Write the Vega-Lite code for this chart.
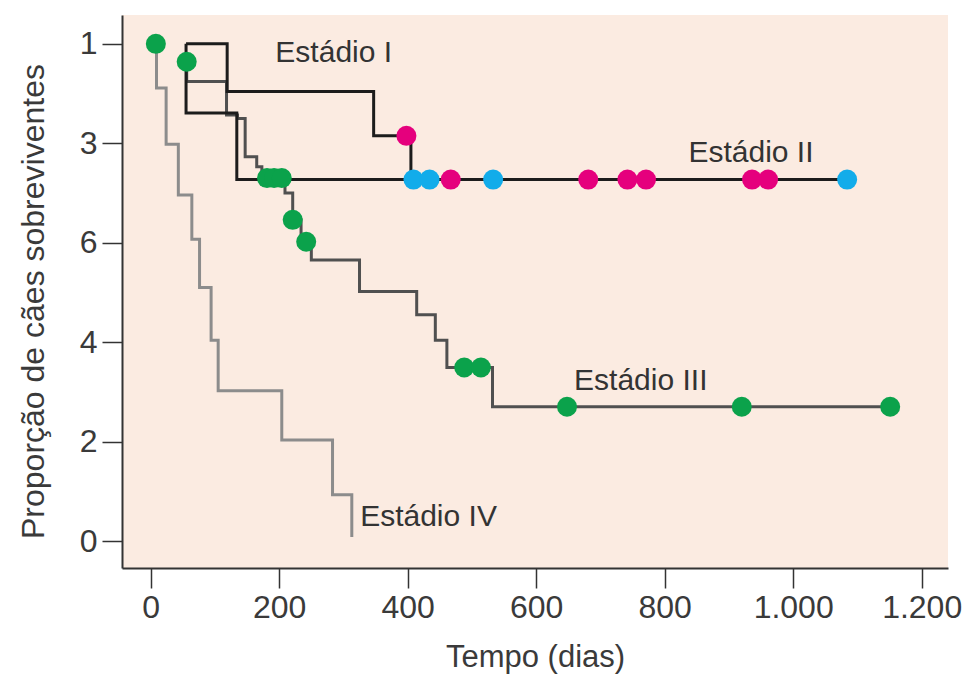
{
  "$schema": "https://vega.github.io/schema/vega-lite/v6.json",
  "width": 826,
  "height": 553,
  "autosize": {"type": "none"},
  "padding": {"left": 122, "top": 15, "right": 26, "bottom": 109},
  "background": "white",
  "config": {
    "font": "Liberation Sans",
    "view": {"fill": "#fbebe1", "stroke": null},
    "axis": {
      "grid": false,
      "domainColor": "#333333",
      "domainWidth": 2,
      "tickColor": "#333333",
      "tickWidth": 1.5,
      "tickSize": 20,
      "labelFont": "Liberation Sans",
      "labelFontSize": 32,
      "labelColor": "#3a3a3a",
      "titleFont": "Liberation Sans",
      "titleFontWeight": "normal",
      "titleColor": "#3a3a3a"
    }
  },
  "datasets": {
    "curves": [
      {"stage": "IV", "i": 0, "t": 9, "s": 1.0},
      {"stage": "IV", "i": 1, "t": 9, "s": 0.911},
      {"stage": "IV", "i": 2, "t": 24, "s": 0.798},
      {"stage": "IV", "i": 3, "t": 43, "s": 0.696},
      {"stage": "IV", "i": 4, "t": 64, "s": 0.607},
      {"stage": "IV", "i": 5, "t": 76, "s": 0.510},
      {"stage": "IV", "i": 6, "t": 94, "s": 0.404},
      {"stage": "IV", "i": 7, "t": 105, "s": 0.302},
      {"stage": "IV", "i": 8, "t": 204, "s": 0.203},
      {"stage": "IV", "i": 9, "t": 283, "s": 0.093},
      {"stage": "IV", "i": 10, "t": 313, "s": 0.008},
      {"stage": "III", "i": 0, "t": 56, "s": 0.964},
      {"stage": "III", "i": 1, "t": 56, "s": 0.924},
      {"stage": "III", "i": 2, "t": 118, "s": 0.857},
      {"stage": "III", "i": 3, "t": 135, "s": 0.850},
      {"stage": "III", "i": 4, "t": 147, "s": 0.773},
      {"stage": "III", "i": 5, "t": 165, "s": 0.753},
      {"stage": "III", "i": 6, "t": 173, "s": 0.730},
      {"stage": "III", "i": 7, "t": 209, "s": 0.700},
      {"stage": "III", "i": 8, "t": 221, "s": 0.646},
      {"stage": "III", "i": 9, "t": 234, "s": 0.602},
      {"stage": "III", "i": 10, "t": 250, "s": 0.565},
      {"stage": "III", "i": 11, "t": 325, "s": 0.502},
      {"stage": "III", "i": 12, "t": 414, "s": 0.455},
      {"stage": "III", "i": 13, "t": 443, "s": 0.404},
      {"stage": "III", "i": 14, "t": 461, "s": 0.349},
      {"stage": "III", "i": 15, "t": 532, "s": 0.270},
      {"stage": "III", "i": 16, "t": 1151, "s": 0.270},
      {"stage": "I", "i": 0, "t": 55, "s": 1.0},
      {"stage": "I", "i": 1, "t": 119, "s": 0.904},
      {"stage": "I", "i": 2, "t": 347, "s": 0.815},
      {"stage": "I", "i": 3, "t": 405, "s": 0.727},
      {"stage": "I", "i": 4, "t": 961, "s": 0.727},
      {"stage": "II", "i": 0, "t": 55, "s": 1.0},
      {"stage": "II", "i": 1, "t": 55, "s": 0.861},
      {"stage": "II", "i": 2, "t": 134, "s": 0.727},
      {"stage": "II", "i": 3, "t": 1084, "s": 0.727}
    ],
    "dots": [
      {"stage": "III", "t": 8, "s": 1.0},
      {"stage": "III", "t": 56, "s": 0.964},
      {"stage": "III", "t": 181, "s": 0.730},
      {"stage": "III", "t": 192, "s": 0.730},
      {"stage": "III", "t": 204, "s": 0.730},
      {"stage": "III", "t": 221, "s": 0.646},
      {"stage": "III", "t": 242, "s": 0.602},
      {"stage": "III", "t": 488, "s": 0.349},
      {"stage": "III", "t": 514, "s": 0.349},
      {"stage": "III", "t": 648, "s": 0.270},
      {"stage": "III", "t": 920, "s": 0.270},
      {"stage": "III", "t": 1151, "s": 0.270},
      {"stage": "I", "t": 398, "s": 0.815},
      {"stage": "I", "t": 467, "s": 0.727},
      {"stage": "I", "t": 681, "s": 0.727},
      {"stage": "I", "t": 742, "s": 0.727},
      {"stage": "I", "t": 771, "s": 0.727},
      {"stage": "I", "t": 936, "s": 0.727},
      {"stage": "I", "t": 961, "s": 0.727},
      {"stage": "II", "t": 409, "s": 0.727},
      {"stage": "II", "t": 434, "s": 0.727},
      {"stage": "II", "t": 533, "s": 0.727},
      {"stage": "II", "t": 1084, "s": 0.727}
    ],
    "labels": [
      {"label": "Estádio I", "t": 194, "s": 0.963},
      {"label": "Estádio II", "t": 837, "s": 0.763},
      {"label": "Estádio III", "t": 659, "s": 0.304},
      {"label": "Estádio IV", "t": 326, "s": 0.031}
    ]
  },
  "encoding": {
    "x": {
      "field": "t",
      "type": "quantitative",
      "scale": {"domain": [-44.7, 1241], "nice": false, "zero": false},
      "axis": {
        "title": "Tempo (dias)",
        "titleFontSize": 31,
        "values": [0, 200, 400, 600, 800, 1000, 1200],
        "labelPadding": 4,
        "titlePadding": 19,
        "labelExpr": "replace(format(datum.value, ','), ',', '.')"
      }
    },
    "y": {
      "field": "s",
      "type": "quantitative",
      "scale": {"domain": [-0.0543, 1.058], "nice": false, "zero": false},
      "axis": {
        "title": "Proporção de cães sobreviventes",
        "titleFontSize": 32,
        "titleY": 286,
        "values": [0, 0.2, 0.4, 0.6, 0.8, 1],
        "labelPadding": 5,
        "titlePadding": 29,
        "labelExpr": "['0', '', '2', '', '4', '', '6', '', '3', '', '1'][round(datum.value * 10)]"
      }
    }
  },
  "layer": [
    {
      "data": {"name": "curves"},
      "transform": [{"filter": "datum.stage == 'IV' || datum.stage == 'III'"}],
      "mark": {"type": "line", "interpolate": "step-after", "strokeWidth": 3},
      "encoding": {
        "detail": {"field": "stage"},
        "order": {"field": "i", "type": "quantitative"},
        "stroke": {
          "field": "stage",
          "type": "nominal",
          "scale": {"domain": ["I", "II", "III", "IV"], "range": ["#1c1c1c", "#1c1c1c", "#505050", "#8c8c8c"]},
          "legend": null
        }
      }
    },
    {
      "data": {"name": "curves"},
      "transform": [{"filter": "datum.stage == 'I' || datum.stage == 'II'"}],
      "mark": {"type": "line", "interpolate": "step-after", "strokeWidth": 3},
      "encoding": {
        "detail": {"field": "stage"},
        "order": {"field": "i", "type": "quantitative"},
        "stroke": {
          "field": "stage",
          "type": "nominal",
          "legend": null
        }
      }
    },
    {
      "data": {"name": "dots"},
      "mark": {"type": "point", "filled": true, "size": 400, "opacity": 1, "shape": "circle"},
      "encoding": {
        "fill": {
          "field": "stage",
          "type": "nominal",
          "scale": {"domain": ["I", "II", "III"], "range": ["#e5007d", "#12acea", "#0ba24b"]},
          "legend": null
        }
      }
    },
    {
      "data": {"name": "labels"},
      "mark": {"type": "text", "align": "left", "baseline": "alphabetic", "fontSize": 30, "color": "#333333", "font": "Liberation Sans"},
      "encoding": {
        "text": {"field": "label"}
      }
    }
  ]
}
